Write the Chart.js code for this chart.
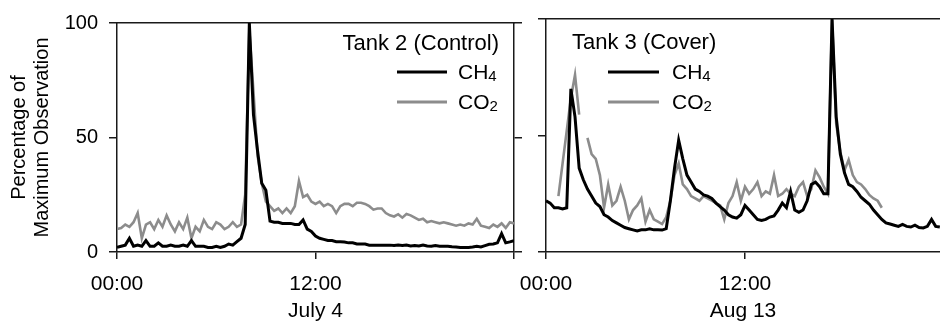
<!DOCTYPE html>
<html>
<head>
<meta charset="utf-8">
<script src="https://cdn.jsdelivr.net/npm/chart.js@4.4.1/dist/chart.umd.min.js"></script>
<style>
  html, body { margin: 0; padding: 0; background: #fff; }
  #wrap { position: relative; width: 940px; height: 322px; overflow: hidden; }
  canvas { position: absolute; top: 0; }
  #left { left: 0; }
  #right { left: 500px; }
</style>
</head>
<body>
<div id="wrap">
  <canvas id="left" width="527" height="322"></canvas>
  <canvas id="right" width="440" height="322"></canvas>
</div>
<script>
// sample times (hours since midnight), every 15 minutes
const hours = [
  0, 0.25, 0.5, 0.75, 1, 1.25, 1.5, 1.75, 2, 2.25, 2.5, 2.75,
  3, 3.25, 3.5, 3.75, 4, 4.25, 4.5, 4.75, 5, 5.25, 5.5, 5.75,
  6, 6.25, 6.5, 6.75, 7, 7.25, 7.5, 7.75, 8, 8.25, 8.5, 8.75,
  9, 9.25, 9.5, 9.75, 10, 10.25, 10.5, 10.75, 11, 11.25, 11.5, 11.75,
  12, 12.25, 12.5, 12.75, 13, 13.25, 13.5, 13.75, 14, 14.25, 14.5, 14.75,
  15, 15.25, 15.5, 15.75, 16, 16.25, 16.5, 16.75, 17, 17.25, 17.5, 17.75,
  18, 18.25, 18.5, 18.75, 19, 19.25, 19.5, 19.75, 20, 20.25, 20.5, 20.75,
  21, 21.25, 21.5, 21.75, 22, 22.25, 22.5, 22.75, 23, 23.25, 23.5, 23.75, 24
];

// Tank 2 (Control), July 4 - % of max observation
const tank2CH4 = [
  2, 2.5, 3, 6,   2.5, 3, 2.5, 5,   2.5, 2.5, 4, 2.5,   2.5, 3, 2.5, 2.5,
  3, 2.5, 5, 2.5,   2.5, 2.5, 2, 2,   2.5, 2, 2.5, 3.5,   3, 4.5, 6, 12,
  100, 60, 44, 30,   27, 13.5, 13, 13,   12.5, 12.5, 12.5, 12,   12, 14, 10, 9,
  7, 6, 5.5, 5,   5, 4.5, 4.5, 4.4,   4, 4, 3.5, 3.5,   3.5, 3, 3, 3,
  3, 3, 3, 2.8,   3, 2.8, 3, 2.6,   2.8, 2.6, 3, 2.6,   2.5, 2.8, 2.5, 2.5,
  2.5, 2.3, 2.2, 2,   2, 2, 2.2, 2.5,   2.2, 2.8, 3.4, 3.5,   4, 8, 4, 4.4,
  5
];
const tank2CO2 = [
  10, 10.5, 12, 11,   13, 17, 6, 12,   13, 10, 14, 11,   16, 12, 9, 13,
  10, 15, 6, 11,   9, 14, 11, 10,   13, 12, 10, 11,   13, 11, 12, 25,
  97, 70, 42, 30,   22, 20, 18, 19,   17, 19, 17, 20,   31, 24, 25, 22,
  21, 22, 20, 21,   20, 17, 20, 21,   21, 20, 21.5, 21.5,   21, 20, 18.5, 19,
  19, 17, 16, 15.5,   16.5, 15, 16.6, 16,   15, 14, 14.5, 13,   13.5, 13, 12.5, 13,
  12.5, 12, 11.5, 12,   11.5, 12.5, 12, 14.5,   11.5, 11, 10.5, 12,   11, 12.5, 10.5, 13,
  12.5
];

// Tank 3 (Cover), Aug 13
const tank3CH4 = [
  22, 21, 19, 19,   18.5, 19, 70, 58,   36, 31, 27, 24,   21, 19.5, 16, 15,
  13.5, 12.5, 11.5, 10.5,   10, 9.5, 9, 9.5,   9.5, 10, 9.5, 9.5,   9.4, 10, 22, 36,
  48, 40, 33, 30,   27, 26, 24.5, 24,   23, 21, 19.5, 18,   16, 15, 14.5, 16,
  20, 18, 16, 14,   13.5, 14, 15, 15.5,   18, 21, 19, 26,   18, 17, 18, 22,
  29, 30, 28, 25,   25, 100, 58, 42,   34, 29, 28, 26,   23.5, 22, 20.5, 18,
  16, 14, 12.5, 12,   11.5, 11, 11.8, 11,   10.7, 11.5, 10.5, 10.3,   11, 14, 11, 10.7
];
const tank3CO2 = [
  null, null, null, 24,   38, 52, 66, 76,   59, null, 49, 42,   40, 33, 19, 29,
  20, 22, 28, 22,   14, 18, 20, 23,   13, 18, 14, 13,   12, 15, 22, 33,
  38, 29, 27, 24,   23, 22, 24, 23,   22, 21, 20, 14,   21, 24, 30, 22,
  28, 25, 27, 30,   24, 26, 25, 33,   24, 25, 27, 25,   24, 28, 30, 24,
  27, 35, 32, 28,   25, 100, 55, 43,   35, 39.5, 33, 30,   29, 27, 24.5, 23,
  22, 19, null, null,   null, null, null, null,   null, null, null, null,   null, null, null, null
];

const yTicks = [0, 50, 100];
const timeLabels = { 0: "00:00", 12: "12:00" };
const yTitle = ["Percentage of", "Maximum Observation"];

const FONT = '"Liberation Sans", Arial, sans-serif';
const AXIS = "#1a1a1a";
Chart.defaults.font.family = FONT;
Chart.defaults.font.size = 20;
Chart.defaults.color = "#000";

function splitSub(label) {
  const subs = "₀₁₂₃₄₅₆₇₈₉";
  const last = label.slice(-1);
  const idx = subs.indexOf(last);
  return idx >= 0 ? [label.slice(0, -1), String(idx)] : [label, ""];
}

// title + legend drawn inside each panel
const panelLegend = {
  id: "panelLegend",
  afterDatasetsDraw(chart, args, opts) {
    const ctx = chart.ctx;
    ctx.save();
    ctx.fillStyle = "#000";
    ctx.textBaseline = "middle";
    ctx.font = "22px " + FONT;
    ctx.textAlign = opts.align;
    ctx.fillText(opts.title, opts.titleX, opts.titleY);
    chart.data.datasets.forEach((ds, i) => {
      const y = opts.rowY[i];
      ctx.strokeStyle = ds.borderColor;
      ctx.lineWidth = 3;
      ctx.beginPath();
      ctx.moveTo(opts.lineX, y);
      ctx.lineTo(opts.lineX + opts.lineLen, y);
      ctx.stroke();
      const [base, sub] = splitSub(ds.label);
      ctx.textAlign = "left";
      ctx.font = "21px " + FONT;
      ctx.fillText(base, opts.textX, y + 1);
      const w = ctx.measureText(base).width;
      ctx.font = "15px " + FONT;
      ctx.fillText(sub, opts.textX + w, y + 5);
    });
    ctx.restore();
  }
};

function yScale(position, width, showLabels, title) {
  return {
    type: "linear",
    position: position,
    min: 0,
    max: 100,
    afterFit: (s) => { s.width = width; },
    afterBuildTicks: (s) => { s.ticks = yTicks.map((v) => ({ value: v })); },
    ticks: { display: showLabels, padding: 11, font: { size: 20 } },
    grid: { drawOnChartArea: false, drawTicks: true, tickLength: 8, color: AXIS, lineWidth: 1.5 },
    border: { display: true, color: AXIS, width: 1.5 },
    title: title
      ? { display: true, text: title, font: { size: 20, lineHeight: 1.15 }, padding: { top: 8, bottom: 0 } }
      : { display: false }
  };
}

function makePanel(canvasId, ch4, co2, maxHour, dateLabel, yAxes, legendOpts) {
  const scales = {
    x: {
      type: "linear",
      position: "bottom",
      min: 0,
      max: maxHour,
      afterFit: (s) => { s.height = 70; },
      ticks: {
        stepSize: 12,
        includeBounds: false,
        padding: 13,
        autoSkip: false,
        maxRotation: 0,
        font: { size: 21 },
        callback: (v) => timeLabels[v] || ""
      },
      grid: { drawOnChartArea: false, drawTicks: true, tickLength: 7, color: AXIS, lineWidth: 1.5 },
      border: { display: true, color: AXIS, width: 1.5 },
      title: { display: true, text: dateLabel, font: { size: 21, lineHeight: 1 }, padding: { top: 0, bottom: 0 } }
    },
    xTop: {
      type: "linear",
      position: "top",
      min: 0,
      max: maxHour,
      afterFit: (s) => { s.height = 0; },
      ticks: { display: false },
      grid: { display: false },
      border: { display: true, color: AXIS, width: 1.5 }
    },
    ...yAxes
  };
  return new Chart(document.getElementById(canvasId), {
    type: "line",
    data: {
      labels: hours,
      datasets: [
        { label: "CH₄", data: ch4, borderColor: "#000", borderWidth: 3, yAxisID: "y" },
        { label: "CO₂", data: co2, borderColor: "#8c8c8c", borderWidth: 2.6, yAxisID: "y" }
      ]
    },
    options: {
      responsive: false,
      devicePixelRatio: 1,
      animation: false,
      spanGaps: false,
      elements: { point: { radius: 0 }, line: { tension: 0 } },
      layout: { padding: { top: 19, left: 0, right: 0, bottom: 0 } },
      scales: scales,
      plugins: {
        legend: { display: false },
        tooltip: { enabled: false },
        panelLegend: legendOpts
      }
    },
    plugins: [panelLegend]
  });
}

makePanel("left", tank2CH4, tank2CO2, 24, "July 4",
  { y: yScale("left", 117, true, yTitle), y2: yScale("right", 12, false, null) },
  { title: "Tank 2 (Control)", align: "right", titleX: 499, titleY: 44, lineX: 397, lineLen: 50, textX: 458, rowY: [72, 102] });

makePanel("right", tank3CH4, tank3CO2, 23.76, "Aug 13",
  { y: yScale("left", 46, false, null) },
  { title: "Tank 3 (Cover)", align: "left", titleX: 72, titleY: 43, lineX: 108, lineLen: 51, textX: 172, rowY: [72, 102] });
</script>
</body>
</html>
